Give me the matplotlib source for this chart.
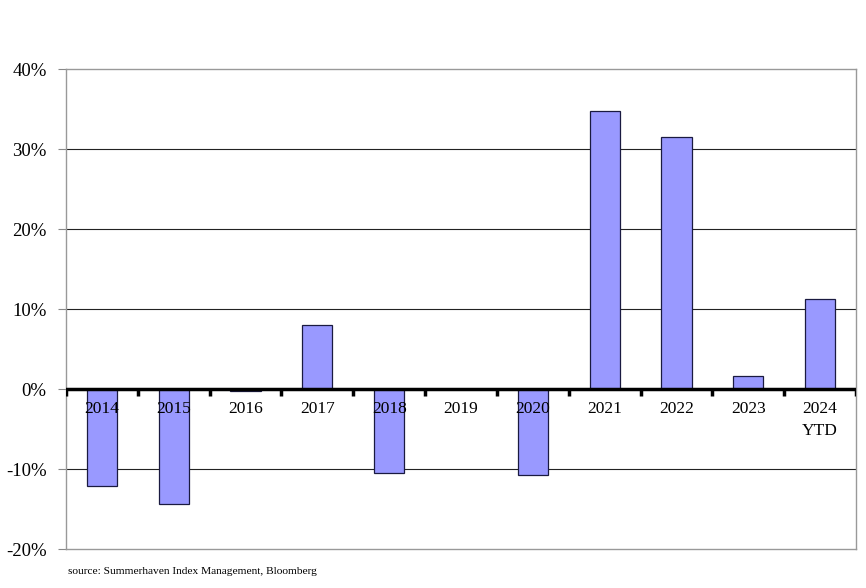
import matplotlib.pyplot as plt
import numpy as np

# data
years = ["2014", "2015", "2016", "2017", "2018", "2019", "2020",
         "2021", "2022", "2023", "2024\nYTD"]
returns = [-12.1, -14.4, -0.25, 8.0, -10.5, 0.0, -10.7,
           34.8, 31.5, 1.6, 11.2]

plt.rcParams['font.family'] = ['Liberation Serif', 'DejaVu Serif']

fig = plt.figure(figsize=(8.66, 5.88), dpi=100)
ax = fig.add_axes([66 / 866, 1 - 549 / 588, 790 / 866, 480 / 588])

x = np.arange(len(years))
ax.bar(x, returns, width=0.42, color='#9999ff', edgecolor='#1a1a40',
       linewidth=0.9, zorder=3)

ax.set_xlim(-0.5, len(years) - 0.5)
ax.set_ylim(-20, 40)
ax.set_yticks(np.arange(-20, 41, 10))
ax.set_yticklabels([f"{v}%" for v in range(-20, 41, 10)], fontsize=13.5)
ax.tick_params(axis='y', length=6, color='#888888', pad=8)

# horizontal gridlines
for v in [-10, 10, 20, 30]:
    ax.axhline(v, color='#222222', linewidth=0.8, zorder=1)

for s in ['left', 'right', 'top', 'bottom']:
    ax.spines[s].set_color('#999999')
    ax.spines[s].set_linewidth(1.0)

# zero axis with tick marks between categories
ax.axhline(0, color='black', linewidth=2.5, zorder=4)
ax.set_xticks([])
for b in np.arange(-0.5, len(years), 1):
    ax.plot([b, b], [0, -0.9], color='black', linewidth=2.5, zorder=4,
            solid_capstyle='butt')

for xi, lab in zip(x, years):
    ax.text(xi, -1.55, lab, ha='center', va='top', fontsize=12.5,
            linespacing=1.45, zorder=5)

fig.text(68 / 866, 1 - 571 / 588, "source: Summerhaven Index Management, Bloomberg",
         fontsize=8.2, va='center', ha='left')

fig.savefig("out.png", dpi=100)
